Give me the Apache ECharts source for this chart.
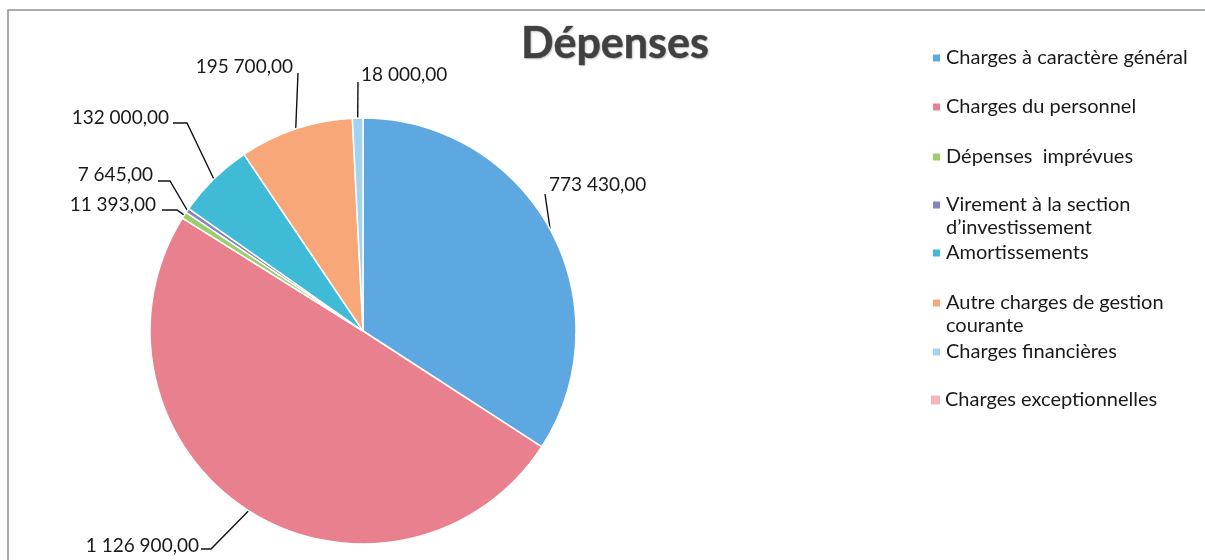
<!DOCTYPE html>
<html>
<head>
<meta charset="utf-8">
<script src="https://cdn.jsdelivr.net/npm/echarts@6/dist/echarts.min.js"></script>
<style>
  html, body { margin: 0; padding: 0; background: #ffffff; }
  #chart { width: 1205px; height: 560px; }
</style>
</head>
<body>
<div id="chart"></div>
<script>
// Budget de fonctionnement : répartition des dépenses
const categories = [
  'Charges à caractère général',
  'Charges du personnel',
  'Dépenses  imprévues',
  'Virement à la section\nd’investissement',
  'Amortissements',
  'Autre charges de gestion\ncourante',
  'Charges financières',
  'Charges exceptionnelles'
];
const values = [773430, 1126900, 11393, 7645, 132000, 195700, 18000, 0];
const colors = ['#5ea8e2', '#e8808e', '#9dcc6b', '#8583c2', '#3fbbd8', '#f8a878', '#a3d3ee', '#f4b6be'];

// Where each value label sits, and the bends of its leader line
const labelSpots = [
  { x: 549, y: 185, align: 'left',  line: [[545, 194]] },
  { x: 199, y: 546, align: 'right', line: [[211, 549], [201, 549]] },
  { x: 156, y: 205, align: 'right', line: [[177, 210], [162, 210]] },
  { x: 153, y: 175, align: 'right', line: [[170, 181], [158, 181]] },
  { x: 169, y: 118, align: 'right', line: [[187, 123], [173, 123]] },
  { x: 293, y: 67,  align: 'right', line: [[298, 73]] },
  { x: 361, y: 75,  align: 'left',  line: [[358, 82]] }
];

// Legend rows (vertical centre of each entry's first line)
const legendRows = [58, 107, 157, 205, 253, 303, 352, 400];

function frNumber(v) {
  const parts = v.toFixed(2).split('.');
  parts[0] = parts[0].replace(/\B(?=(\d{3})+(?!\d))/g, ' ');
  return parts[0] + ',' + parts[1];
}

const FONT = 'Lato, "Open Sans", sans-serif';

// One legend block per entry; wrapped names get an empty leading line so the
// swatch lines up with their first line of text.
const legends = categories.map((name, i) => {
  const twoLines = name.indexOf('\n') >= 0;
  return {
    data: [name],
    left: 931,
    top: legendRows[i] - (twoLines ? 34.5 : 11.5),
    padding: 0,
    orient: 'vertical',
    icon: 'rect',
    itemWidth: 9,
    itemHeight: 9,
    itemGap: 0,
    selectedMode: false,
    formatter: (n) => (n.indexOf('\n') >= 0 ? '\n' + n : n),
    textStyle: { fontFamily: FONT, fontSize: 20, color: '#1a1a1a', lineHeight: 23 }
  };
});

const chart = echarts.init(document.getElementById('chart'), null, { renderer: 'canvas' });
chart.setOption({
  animation: false,
  color: colors,
  title: {
    text: 'Dépenses',
    left: 521,
    top: 23,
    padding: 0,
    textStyle: {
      fontFamily: FONT,
      fontWeight: 'bold',
      fontSize: 43,
      color: '#404040',
      textBorderColor: 'rgba(20,20,20,0.5)',
      textBorderWidth: 0.7,
      textShadowColor: 'rgba(0,0,0,0.22)',
      textShadowBlur: 2,
      textShadowOffsetX: 1,
      textShadowOffsetY: 1
    }
  },
  legend: legends,
  graphic: [{
    type: 'rect',
    silent: true,
    shape: { x: 8, y: 10, width: 1400, height: 800 },
    style: { fill: 'none', stroke: '#8b919a', lineWidth: 1.5 }
  }],
  series: [{
    type: 'pie',
    center: [363, 331],
    radius: 213,
    startAngle: 90,
    clockwise: true,
    avoidLabelOverlap: false,
    emphasis: { disabled: true },
    itemStyle: { borderColor: '#ffffff', borderWidth: 1.5 },
    label: {
      show: true,
      position: 'outside',
      fontFamily: FONT,
      fontSize: 19,
      color: '#1a1a1a',
      formatter: (p) => frNumber(p.value)
    },
    labelLine: { show: true, length: 10, length2: 10, lineStyle: { color: '#111', width: 1.4 } },
    labelLayout: function (params) {
      const s = labelSpots[params.dataIndex];
      if (!s) return {};
      const pts = params.labelLinePoints;
      const out = { x: s.x, y: s.y, align: s.align, verticalAlign: 'middle' };
      if (pts && pts.length) out.labelLinePoints = [pts[0]].concat(s.line);
      return out;
    },
    data: categories.map((name, i) => {
      const item = { name: name, value: values[i] };
      if (values[i] === 0) {
        item.label = { show: false };
        item.labelLine = { show: false };
        item.itemStyle = { borderWidth: 0 };
      }
      return item;
    })
  }]
});
</script>
</body>
</html>
